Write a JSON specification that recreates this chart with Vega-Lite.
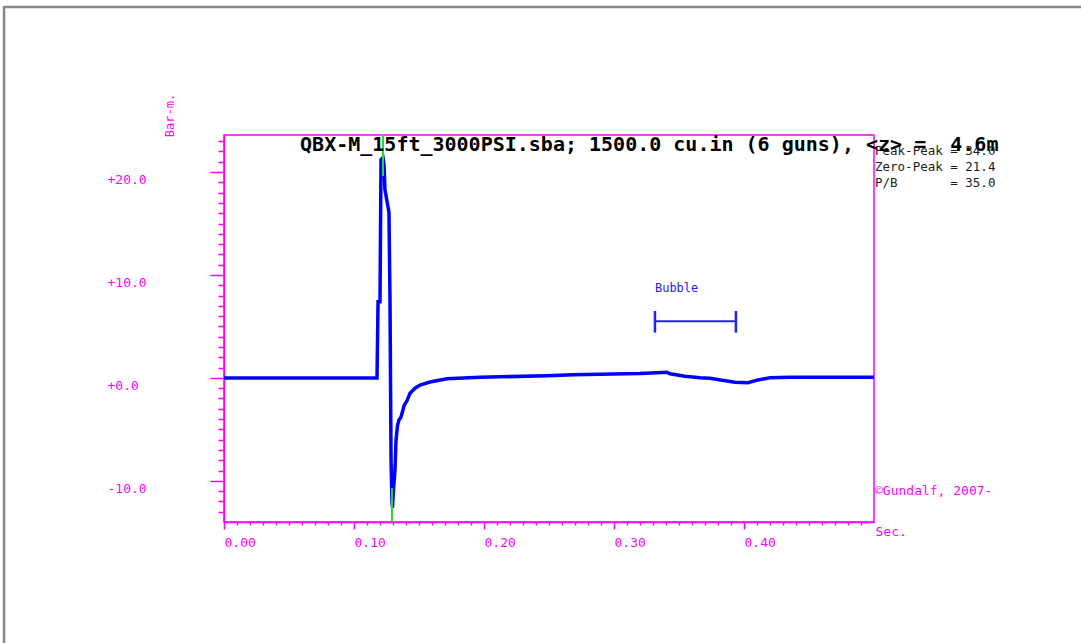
{
  "$schema": "https://vega.github.io/schema/vega-lite/v6.json",
  "width": 650,
  "height": 387,
  "autosize": {"type": "none"},
  "padding": {"left": 224, "top": 135, "right": 207, "bottom": 121},
  "background": "white",
  "config": {
    "view": {"stroke": "#ff00ff", "strokeWidth": 1.5},
    "axis": {"grid": false}
  },
  "datasets": {
    "signature": [
      {"t": 0, "p": 0}, {"t": 0.1177, "p": 0}, {"t": 0.1185, "p": 7.4}, {"t": 0.12, "p": 7.4},
      {"t": 0.1208, "p": 21.2}, {"t": 0.1223, "p": 21.4}, {"t": 0.1231, "p": 20.7}, {"t": 0.1238, "p": 18.3},
      {"t": 0.1269, "p": 16.1}, {"t": 0.1277, "p": 7.5}, {"t": 0.1285, "p": -8.0}, {"t": 0.1292, "p": -11.9},
      {"t": 0.1296, "p": -12.6}, {"t": 0.1304, "p": -10.8}, {"t": 0.1315, "p": -9.0}, {"t": 0.1323, "p": -6.1},
      {"t": 0.1335, "p": -4.6}, {"t": 0.1346, "p": -4.1}, {"t": 0.1362, "p": -3.8}, {"t": 0.1385, "p": -2.7},
      {"t": 0.1408, "p": -2.2}, {"t": 0.1431, "p": -1.5}, {"t": 0.1469, "p": -1.0}, {"t": 0.1508, "p": -0.7},
      {"t": 0.1585, "p": -0.4}, {"t": 0.1715, "p": -0.08}, {"t": 0.1969, "p": 0.07}, {"t": 0.2485, "p": 0.2},
      {"t": 0.2685, "p": 0.3}, {"t": 0.32, "p": 0.43}, {"t": 0.3408, "p": 0.55}, {"t": 0.3431, "p": 0.4},
      {"t": 0.3546, "p": 0.17}, {"t": 0.3662, "p": 0.02}, {"t": 0.3738, "p": -0.03}, {"t": 0.3831, "p": -0.22},
      {"t": 0.3931, "p": -0.42}, {"t": 0.4031, "p": -0.47}, {"t": 0.41, "p": -0.22}, {"t": 0.42, "p": 0.02},
      {"t": 0.4354, "p": 0.07}, {"t": 0.5, "p": 0.07}
    ],
    "markers": [
      {"t": 0.1223, "p": 19.6, "p2": 23.6},
      {"t": 0.1292, "p": -14, "p2": -10.7}
    ],
    "bubble": [{"t": 0.3315, "t2": 0.3938, "p": 5.5}],
    "caps": [{"t": 0.3315, "p": 4.4, "p2": 6.5}, {"t": 0.3938, "p": 4.4, "p2": 6.5}],
    "one": [{"n": 1}]
  },
  "layer": [
    {
      "encoding": {
        "x": {
          "field": "t", "type": "quantitative",
          "scale": {"domain": [0, 0.5], "nice": false, "zero": false},
          "axis": {
            "title": "Sec.", "titleFont": "DejaVu Sans Mono", "titleFontSize": 13, "titleFontWeight": "normal",
            "titleColor": "#ff00ff", "titleX": 651, "titleY": 9, "titleAlign": "left", "titleBaseline": "middle", "titleAngle": 0,
            "values": [0,0.01,0.02,0.03,0.04,0.05,0.06,0.07,0.08,0.09,0.1,0.11,0.12,0.13,0.14,0.15,0.16,0.17,0.18,0.19,0.2,0.21,0.22,0.23,0.24,0.25,0.26,0.27,0.28,0.29,0.3,0.31,0.32,0.33,0.34,0.35,0.36,0.37,0.38,0.39,0.4,0.41,0.42,0.43,0.44,0.45,0.46,0.47,0.48,0.49],
            "labelExpr": "round(datum.value*100) % 10 == 0 ? format(datum.value, '.2f') : ''",
            "labelFont": "DejaVu Sans Mono", "labelFontSize": 13, "labelColor": "#ff00ff",
            "labelAlign": "left", "labelBaseline": "middle", "labelPadding": 13,
            "labelFlush": false, "labelOverlap": false, "labelBound": false,
            "tickSize": {"condition": {"test": "round(datum.value*100) % 10 == 0", "value": 7}, "value": 3},
            "tickColor": "#ff00ff", "tickWidth": 1.5, "domainColor": "#ff00ff", "domainWidth": 1.5
          }
        },
        "y": {
          "field": "p", "type": "quantitative",
          "scale": {"domain": [-14, 23.6], "nice": false, "zero": false},
          "axis": {
            "title": "Bar-m.", "titleFont": "DejaVu Sans Mono", "titleFontSize": 12, "titleFontWeight": "normal",
            "titleColor": "#ff00ff", "titleAngle": 270, "titleX": -55, "titleY": -20, "titleAlign": "center", "titleBaseline": "middle",
            "values": [-13,-12,-11,-10,-9,-8,-7,-6,-5,-4,-3,-2,-1,0,1,2,3,4,5,6,7,8,9,10,11,12,13,14,15,16,17,18,19,20,21,22,23],
            "labelExpr": "datum.value % 10 == 0 ? (datum.value < 0 ? '-' : '+') + format(abs(datum.value), '.1f') : ''",
            "labelFont": "DejaVu Sans Mono", "labelFontSize": 13, "labelColor": "#ff00ff",
            "labelAlign": "left", "labelBaseline": "middle", "labelPadding": 103, "labelOffset": 7.5,
            "labelFlush": false, "labelOverlap": false, "labelBound": false,
            "tickSize": {"condition": {"test": "datum.value % 10 == 0", "value": 14}, "value": 6},
            "tickColor": "#ff00ff", "tickWidth": 1.5, "domainColor": "#ff00ff", "domainWidth": 1.5
          }
        }
      },
      "layer": [
        {
          "data": {"name": "signature"},
          "mark": {"type": "line", "color": "#0000ff", "strokeWidth": 3.5, "clip": true}
        },
        {
          "data": {"name": "markers"},
          "mark": {"type": "rule", "color": "#22dd22", "strokeWidth": 2},
          "encoding": {"y2": {"field": "p2"}}
        },
        {
          "data": {"name": "bubble"},
          "mark": {"type": "rule", "color": "#2222ee", "strokeWidth": 2},
          "encoding": {"x2": {"field": "t2"}}
        },
        {
          "data": {"name": "caps"},
          "mark": {"type": "rule", "color": "#2222ee", "strokeWidth": 2.5},
          "encoding": {"y2": {"field": "p2"}}
        }
      ]
    },
    {
      "data": {"name": "one"},
      "mark": {"type": "rect", "fill": null, "fillOpacity": 0, "stroke": "#888888", "strokeWidth": 2.5, "clip": false,
        "x": {"expr": "scale('x', -0.1692)"}, "x2": {"expr": "scale('x', 0.7)"},
        "y": {"expr": "scale('y', 36.03)"}, "y2": {"expr": "scale('y', -27)"}},
      "encoding": {}
    },
    {
      "data": {"name": "one"},
      "mark": {"type": "text", "align": "left", "baseline": "alphabetic", "font": "DejaVu Sans Mono", "fontSize": 20, "fontWeight": "bold", "color": "#000000", "clip": false,
        "text": "QBX-M_15ft_3000PSI.sba; 1500.0 cu.in (6 guns), <z> =\u00a0 4.6m",
        "x": {"expr": "scale('x', 0.0585)"}, "y": {"expr": "scale('y', 22.0)"}}
    },
    {
      "data": {"name": "one"},
      "mark": {"type": "text", "align": "left", "baseline": "middle", "font": "DejaVu Sans Mono", "fontSize": 12, "color": "#2222ee",
        "text": "Bubble",
        "x": {"expr": "scale('x', 0.3315)"}, "y": {"expr": "scale('y', 8.75)"}}
    },
    {
      "data": {"name": "one"},
      "mark": {"type": "text", "align": "left", "baseline": "alphabetic", "font": "DejaVu Sans Mono", "fontSize": 12.5, "color": "#222222", "lineHeight": 16, "dx": 1, "clip": false,
        "text": ["Peak-Peak = 34.0", "Zero-Peak = 21.4", "P/B\u00a0\u00a0\u00a0\u00a0\u00a0\u00a0\u00a0= 35.0"],
        "x": {"expr": "scale('x', 0.5)"}, "y": {"expr": "scale('y', 21.65)"}}
    },
    {
      "data": {"name": "one"},
      "mark": {"type": "text", "align": "left", "baseline": "middle", "font": "DejaVu Sans Mono", "fontSize": 13, "color": "#ff00ff", "dx": 1, "clip": false,
        "text": "\u00a9Gundalf, 2007-",
        "x": {"expr": "scale('x', 0.5)"}, "y": {"expr": "scale('y', -11.0)"}}
    }
  ]
}
